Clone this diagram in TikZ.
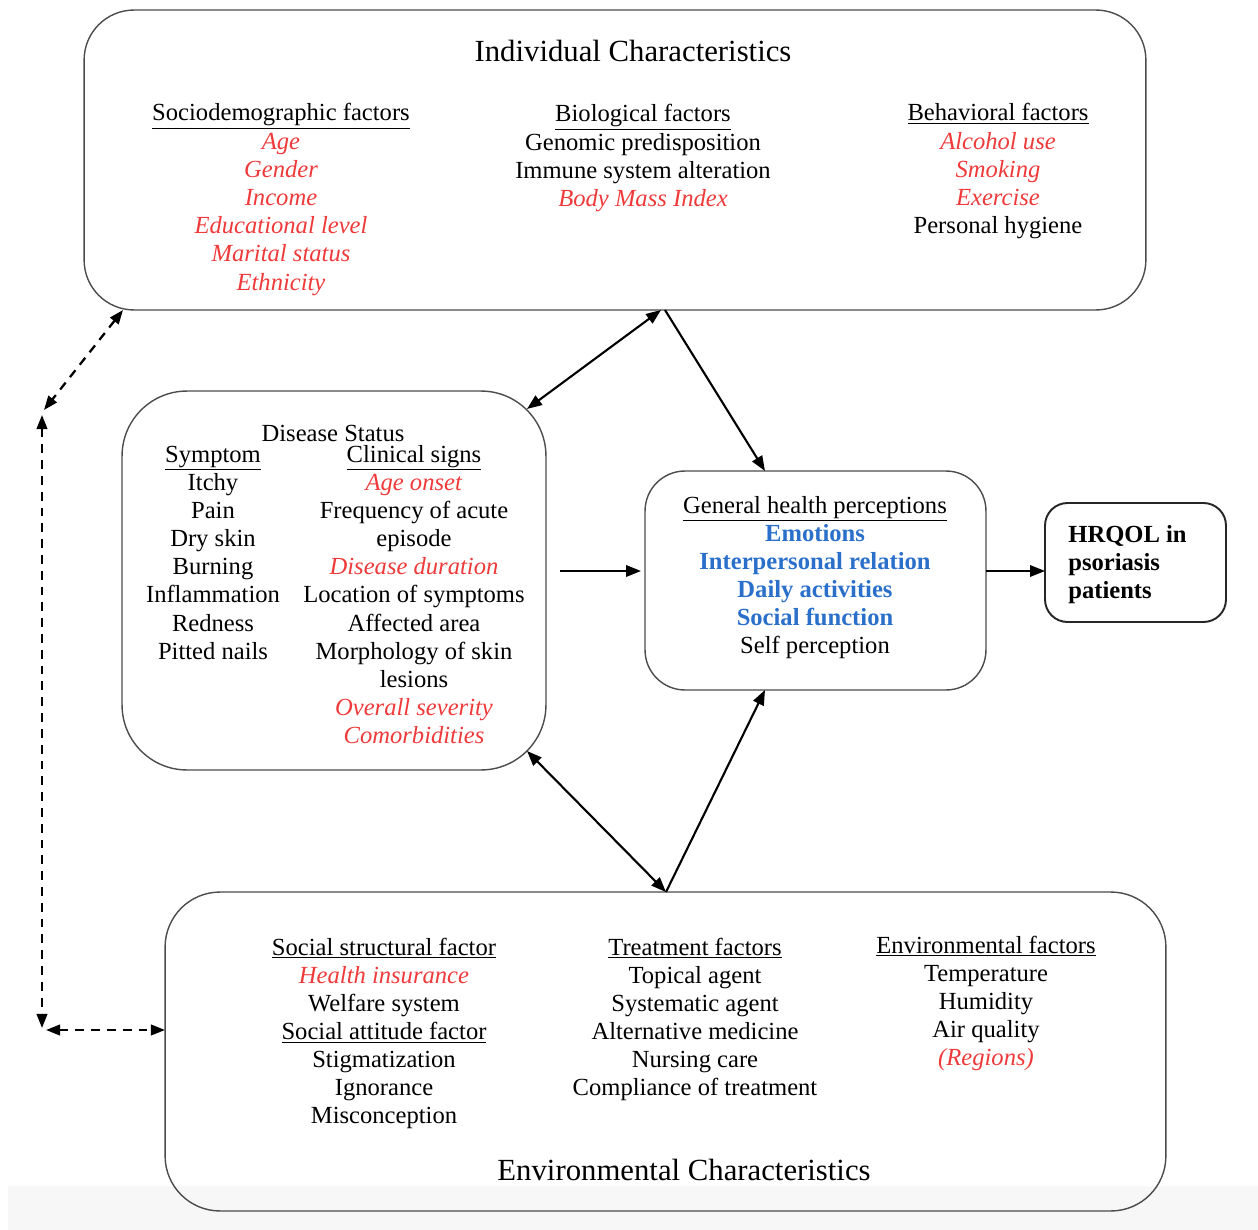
\documentclass[tikz,border=0pt]{standalone}
\usepackage{fontspec}
\setmainfont{Liberation Serif}
\usepackage{xcolor}
\usetikzlibrary{arrows.meta}
\definecolor{redtext}{RGB}{238,58,58}
\definecolor{bluetext}{RGB}{42,112,202}
\newcommand{\rt}[1]{\textcolor{redtext}{\textit{#1}}}
\newcommand{\bt}[1]{\textcolor{bluetext}{\textbf{#1}}}
\tikzset{
  box/.style={rectangle, draw=black!70, line width=0.8pt, inner sep=0pt, outer sep=0pt},
  txt/.style={anchor=base, inner sep=0pt, font=\fontsize{14}{16}\selectfont},
  link/.style={line width=1.2pt, -{Triangle[length=8.5pt,width=6.5pt]}},
  dlink/.style={line width=1.3pt, dash pattern=on 5pt off 4pt, {Triangle[length=8pt,width=6pt]}-{Triangle[length=8pt,width=6pt]}}
}
\begin{document}
\begin{tikzpicture}[x=0.02cm, y=-0.02cm]
\useasboundingbox (0,0) rectangle (1258,1230);
\fill[black!3] (8,1186) rectangle (1258,1230);

% boxes
\node (ind) at (615,160) [box, minimum width=21.24cm, minimum height=6cm, rounded corners=1cm] {};
\node (dis) at (334,580.5) [box, minimum width=8.48cm, minimum height=7.58cm, rounded corners=1.3cm] {};
\node (ghp) at (815.5,580.5) [box, minimum width=6.82cm, minimum height=4.38cm, rounded corners=0.8cm] {};
\node (hrq) at (1135.5,562.5) [box, line width=1.1pt, draw=black!85, minimum width=3.62cm, minimum height=2.38cm, rounded corners=0.45cm] {};
\node (env) at (665.5,1051.5) [box, minimum width=20.02cm, minimum height=6.38cm, rounded corners=1.1cm] {};

% individual characteristics
\node (indT) at (633,62) [txt, font=\fontsize{17.5}{20}\selectfont] {Individual Characteristics};
\node (socio) at (281,121) [txt] {
    \begin{tabular}[t]{@{}c@{}}
        \underline{Sociodemographic factors} \\
        \rt{Age} \\
        \rt{Gender} \\
        \rt{Income} \\
        \rt{Educational level} \\
        \rt{Marital status} \\
        \rt{Ethnicity}
    \end{tabular}
};
\node (bio) at (643,122) [txt] {
    \begin{tabular}[t]{@{}c@{}}
        \underline{Biological factors} \\
        Genomic predisposition \\
        Immune system alteration \\
        \rt{Body Mass Index}
    \end{tabular}
};
\node (behav) at (998,121) [txt] {
    \begin{tabular}[t]{@{}c@{}}
        \underline{Behavioral factors} \\
        \rt{Alcohol use} \\
        \rt{Smoking} \\
        \rt{Exercise} \\
        Personal hygiene
    \end{tabular}
};

% disease status
\node (disT) at (333,441) [txt] {Disease Status};
\node (symp) at (213,462) [txt] {
    \begin{tabular}[t]{@{}c@{}}
        \underline{Symptom} \\
        Itchy \\
        Pain \\
        Dry skin \\
        Burning \\
        Inflammation \\
        Redness \\
        Pitted nails
    \end{tabular}
};
\node (clin) at (414,462) [txt] {
    \begin{tabular}[t]{@{}c@{}}
        \underline{Clinical signs} \\
        \rt{Age onset} \\
        Frequency of acute \\
        episode \\
        \rt{Disease duration} \\
        Location of symptoms \\
        Affected area \\
        Morphology of skin \\
        lesions \\
        \rt{Overall severity} \\
        \rt{Comorbidities}
    \end{tabular}
};

% general health perceptions
\node (ghpT) at (815,513) [txt] {
    \begin{tabular}[t]{@{}c@{}}
        \underline{General health perceptions} \\
        \bt{Emotions} \\
        \bt{Interpersonal relation} \\
        \bt{Daily activities} \\
        \bt{Social function} \\
        Self perception
    \end{tabular}
};
\node (hrqT) at (1068,542) [txt, anchor=base west] {
    \begin{tabular}[t]{@{}l@{}}
        \textbf{HRQOL in} \\
        \textbf{psoriasis} \\
        \textbf{patients}
    \end{tabular}
};

% environmental characteristics
\node (soc) at (384,955) [txt] {
    \begin{tabular}[t]{@{}c@{}}
        \underline{Social structural factor} \\
        \rt{Health insurance} \\
        Welfare system \\
        \underline{Social attitude factor} \\
        Stigmatization \\
        Ignorance \\
        Misconception
    \end{tabular}
};
\node (treat) at (695,955) [txt] {
    \begin{tabular}[t]{@{}c@{}}
        \underline{Treatment factors} \\
        Topical agent \\
        Systematic agent \\
        Alternative medicine \\
        Nursing care \\
        Compliance of treatment
    \end{tabular}
};
\node (envf) at (986,953) [txt] {
    \begin{tabular}[t]{@{}c@{}}
        \underline{Environmental factors} \\
        Temperature \\
        Humidity \\
        Air quality \\
        \rt{(Regions)}
    \end{tabular}
};
\node (envT) at (684,1180) [txt, font=\fontsize{17.5}{20}\selectfont] {Environmental Characteristics};

% points on the borders
\coordinate (indA) at (661,310);
\coordinate (indB) at (665,310);
\coordinate (indC) at (123,310);
\coordinate (disA) at (527,409);
\coordinate (disB) at (527,751);
\coordinate (disR) at (560,571);
\coordinate (ghpA) at (765,471);
\coordinate (ghpB) at (765,690);
\coordinate (ghpL) at (641,571);
\coordinate (ghpR) at (986,571);
\coordinate (hrqL) at (1045,571);
\coordinate (envA) at (666,892);
\coordinate (cornL) at (42,410);
\coordinate (cornB) at (42,1030);
\coordinate (envL) at (165,1030);

% connectors
\draw[link, {Triangle[length=8.5pt,width=6.5pt]}-{Triangle[length=8.5pt,width=6.5pt]}] (disA) -- (indA);
\draw[link] (indB) -- (ghpA);
\draw[link] (disR) -- (ghpL);
\draw[link] (ghpR) -- (hrqL);
\draw[link, {Triangle[length=8.5pt,width=6.5pt]}-{Triangle[length=8.5pt,width=6.5pt]}] (disB) -- (envA);
\draw[link] (envA) -- (ghpB);
\draw[dlink] (indC) -- ([xshift=0.04cm]cornL);
\draw[dlink] ([yshift=-0.1cm]cornL) -- ([yshift=0.04cm]cornB);
\draw[dlink] ([xshift=0.08cm]cornB) -- (envL);
\end{tikzpicture}
\end{document}
